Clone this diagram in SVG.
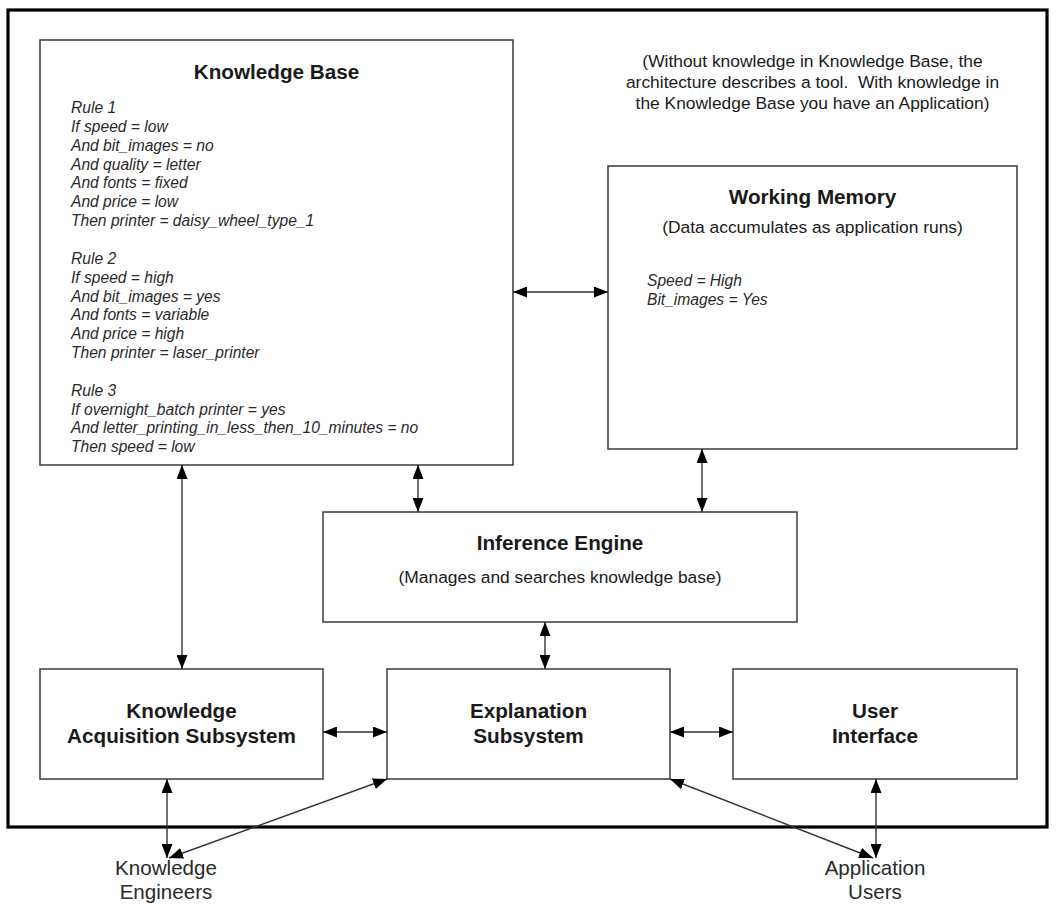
<svg xmlns="http://www.w3.org/2000/svg" width="1059" height="912" viewBox="0 0 1059 912">
<style>
.box{fill:#fff;stroke:#3a3a3a;stroke-width:1.5}
.frame{fill:none;stroke:#000;stroke-width:3.2}
.t{font-family:"Liberation Sans",Arial,sans-serif;fill:#1a1a1a}
.title{font-size:20.7px;font-weight:bold;text-anchor:middle}
.sub{font-size:17.4px;text-anchor:middle}
.it{font-size:15.6px;font-style:italic;fill:#2a2a2a}
.lbl{font-size:20.6px;text-anchor:middle;fill:#2a2a2a}
.c{stroke:#333;stroke-width:1.4;fill:none;marker-start:url(#ah);marker-end:url(#ah)}
</style>
<defs>
<marker id="ah" markerUnits="userSpaceOnUse" markerWidth="14" markerHeight="11" refX="14" refY="5.5" orient="auto-start-reverse">
<path d="M0,0 L14,5.5 L0,11 z" fill="#000"/>
</marker>
</defs>
<rect width="1059" height="912" fill="#fff"/>
<rect class="frame" x="8" y="10" width="1039" height="817"/>

<g id="note">
<text class="t sub" x="812.5" y="67">(Without knowledge in Knowledge Base, the</text>
<text class="t sub" x="812.5" y="88" xml:space="preserve" style="white-space:pre">architecture describes a tool.  With knowledge in</text>
<text class="t sub" x="812.5" y="109">the Knowledge Base you have an Application)</text>
</g>

<g id="knowledge-base">
<rect class="box" x="40" y="40" width="473" height="425"/>
<text class="t title" x="276.5" y="79">Knowledge Base</text>
<text class="t it" x="71" y="113">
<tspan x="71">Rule 1</tspan>
<tspan x="71" dy="18.85">If speed = low</tspan>
<tspan x="71" dy="18.85">And bit_images = no</tspan>
<tspan x="71" dy="18.85">And quality = letter</tspan>
<tspan x="71" dy="18.85">And fonts = fixed</tspan>
<tspan x="71" dy="18.85">And price = low</tspan>
<tspan x="71" dy="18.85">Then printer = daisy_wheel_type_1</tspan>
<tspan x="71" dy="37.7">Rule 2</tspan>
<tspan x="71" dy="18.85">If speed = high</tspan>
<tspan x="71" dy="18.85">And bit_images = yes</tspan>
<tspan x="71" dy="18.85">And fonts = variable</tspan>
<tspan x="71" dy="18.85">And price = high</tspan>
<tspan x="71" dy="18.85">Then printer = laser_printer</tspan>
<tspan x="71" dy="37.7">Rule 3</tspan>
<tspan x="71" dy="18.85">If overnight_batch printer = yes</tspan>
<tspan x="71" dy="18.85">And letter_printing_in_less_then_10_minutes = no</tspan>
<tspan x="71" dy="18.85">Then speed = low</tspan>
</text>
</g>

<g id="working-memory">
<rect class="box" x="608" y="166" width="409" height="283"/>
<text class="t title" x="812.5" y="204">Working Memory</text>
<text class="t sub" x="812.5" y="233">(Data accumulates as application runs)</text>
<text class="t it" x="647" y="286">Speed = High</text>
<text class="t it" x="647" y="304.5">Bit_images = Yes</text>
</g>

<g id="inference-engine">
<rect class="box" x="323" y="512" width="474" height="110"/>
<text class="t title" x="560" y="550">Inference Engine</text>
<text class="t sub" x="560" y="583">(Manages and searches knowledge base)</text>
</g>

<g id="knowledge-acquisition">
<rect class="box" x="40" y="669" width="283" height="110"/>
<text class="t title" x="181.5" y="718">Knowledge</text>
<text class="t title" x="181.5" y="743">Acquisition Subsystem</text>
</g>

<g id="explanation">
<rect class="box" x="387" y="669" width="283" height="110"/>
<text class="t title" x="528.5" y="718">Explanation</text>
<text class="t title" x="528.5" y="743">Subsystem</text>
</g>

<g id="user-interface">
<rect class="box" x="733" y="669" width="284" height="110"/>
<text class="t title" x="875" y="718">User</text>
<text class="t title" x="875" y="743">Interface</text>
</g>

<g id="knowledge-engineers">
<text class="t lbl" x="166" y="875">Knowledge</text>
<text class="t lbl" x="166" y="899">Engineers</text>
</g>

<g id="application-users">
<text class="t lbl" x="875" y="875">Application</text>
<text class="t lbl" x="875" y="899">Users</text>
</g>

<g id="connectors">
<line class="c" x1="513" y1="292" x2="608" y2="292"/>
<line class="c" x1="418" y1="465" x2="418" y2="512"/>
<line class="c" x1="702" y1="449" x2="702" y2="512"/>
<line class="c" x1="182" y1="465" x2="182" y2="669"/>
<line class="c" x1="545" y1="622" x2="545" y2="669"/>
<line class="c" x1="323" y1="732" x2="387" y2="732"/>
<line class="c" x1="670" y1="732" x2="733" y2="732"/>
<line class="c" x1="167" y1="779" x2="167" y2="858"/>
<line class="c" x1="387" y1="779" x2="169" y2="858"/>
<line class="c" x1="876" y1="779" x2="876" y2="858"/>
<line class="c" x1="670" y1="779" x2="873" y2="858"/>
</g>
</svg>
